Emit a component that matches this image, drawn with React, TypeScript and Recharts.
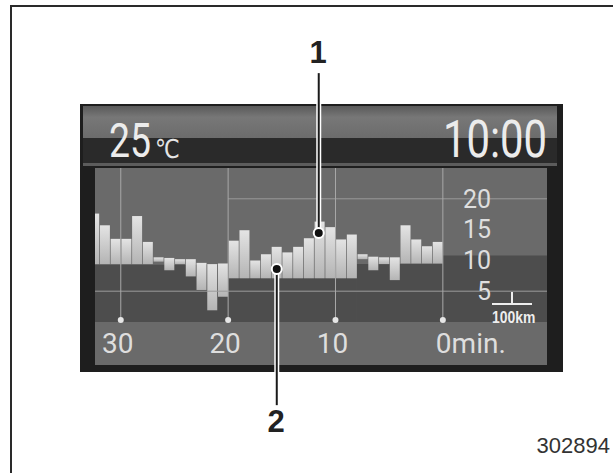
import React from "react";
import { ComposedChart, Bar, XAxis, YAxis, ReferenceArea, ReferenceLine, ReferenceDot } from "recharts";

// minutes ago at the start of each one-minute bar (oldest first)
const minutes = [33, 32, 31, 30, 29, 28, 27, 26, 25, 24, 23, 22, 21, 20, 19, 18, 17, 16, 15, 14, 13, 12, 11, 10, 9, 8, 7, 6, 5, 4, 3, 2, 1];
const barTop = [17.6, 15.7, 13.5, 13.5, 17.2, 13.0, 10.5, 10.4, 10.2, 10.2, 9.6, 9.4, 9.5, 13.2, 14.9, 10.0, 11.0, 12.2, 11.3, 12.2, 13.6, 16.3, 15.4, 13.4, 14.2, 11.0, 10.6, 10.5, 10.5, 15.7, 13.4, 12.3, 13.0];
const barBottom = [9.4, 9.4, 9.4, 9.4, 9.4, 9.4, 9.8, 8.4, 9.4, 7.4, 5.2, 1.9, 4.1, 7.1, 7.1, 7.1, 7.1, 7.1, 7.1, 7.1, 7.1, 7.1, 7.1, 7.1, 7.1, 10.2, 8.4, 9.4, 6.8, 9.5, 9.5, 9.5, 9.5];

const timeTicks = [30, 20, 10, 0];
const rateTicks = [5, 10, 15, 20];

// darker band under the running average
const avgFrom = [32.4, 20, 8, 0];
const avgTo = [20, 8, 0, -9.7];
const avgLevel = [9.3, 7.1, 9.4, 10.8];

const gridRates = [20, 5];
const gridFrom = [20, 32.4];

const callouts = [
  { name: "1", t: 11.56, rate: 14.45, end: 40.4 },
  { name: "2", t: 15.47, rate: 8.6, end: -13.5 },
];

const data = minutes.map((m, i) => ({ t: m - 0.5, range: [barBottom[i], barTop[i]] }));

const TimeTick = (props: any) => {
  const { x, payload } = props;
  const v = payload.value;
  return (
    <g>
      <circle cx={x} cy={320} r={3} fill="#e6e6e6" />
      {v === 0 ? (
        <text x={x - 7} y={353} fill="#dedede" fontSize={28} fontFamily="Roboto" textAnchor="start">
          0min.
        </text>
      ) : (
        <text x={x - 3} y={353} fill="#dedede" fontSize={28} fontFamily="Roboto" textAnchor="middle">
          {v}
        </text>
      )}
    </g>
  );
};

const RateTick = (props: any) => {
  const { y, payload } = props;
  return (
    <text x={491} y={y} dy="0.35em" fill="#dedede" fontSize={25} fontFamily="Roboto" textAnchor="end">
      {payload.value}
    </text>
  );
};

const box = (l: number, t: number, w: number, h: number, bg: string): React.CSSProperties => ({
  position: "absolute",
  left: l,
  top: t,
  width: w,
  height: h,
  background: bg,
});

export default function App() {
  return (
    <div style={{ position: "absolute", left: 0, top: 0, width: 613, height: 473, background: "#fff", overflow: "hidden" }}>
      <div style={{ position: "absolute", left: 10, top: 5, right: -4, bottom: -4, borderTop: "2px solid #2a2a2a", borderLeft: "2px solid #2a2a2a" }} />
      <div style={box(80, 104, 483, 268, "#1e1e1e")} />
      <div style={{ ...box(83, 106, 474, 32, "#6f6f6f"), background: "linear-gradient(#5a5a5a, #777 35%, #6c6c6c)" }} />
      <div style={box(83, 138, 474, 25, "#2a2a2a")} />
      <div style={box(83, 163, 474, 3, "#5c5c5c")} />
      <div style={box(95, 168, 452, 197, "#6a6a6a")} />

      <div style={{ position: "absolute", left: 0, top: 0 }}>
        <ComposedChart width={613} height={473} data={data} margin={{ top: 168, right: 66, bottom: 115, left: 95 }} barCategoryGap={0.6}>
          <defs>
            <linearGradient id="barFill" x1="0" y1="0" x2="0" y2="1">
              <stop offset="0%" stopColor="#e4e4e4" />
              <stop offset="100%" stopColor="#b4b4b4" />
            </linearGradient>
          </defs>
          <XAxis
            type="number"
            dataKey="t"
            domain={[-9.7, 32.4]}
            reversed
            allowDataOverflow
            ticks={timeTicks}
            interval={0}
            tick={<TimeTick />}
            axisLine={false}
            tickLine={false}
            height={36}
          />
          <YAxis
            type="number"
            domain={[0, 25]}
            orientation="right"
            mirror
            allowDataOverflow
            ticks={rateTicks}
            interval={0}
            tick={<RateTick />}
            axisLine={false}
            tickLine={false}
          />
          {avgLevel.map((lv, i) => (
            <ReferenceArea key={`avg-${i}`} x1={avgFrom[i]} x2={avgTo[i]} y1={0} y2={lv} fill="#4d4d4d" fillOpacity={1} stroke="none" ifOverflow="hidden" />
          ))}
          {gridRates.map((r, i) => (
            <ReferenceLine key={`gy-${i}`} segment={[{ x: gridFrom[i], y: r }, { x: -9.7, y: r }]} stroke="#9a9a9a" strokeWidth={1} ifOverflow="hidden" />
          ))}
          {timeTicks.map((t) => (
            <ReferenceLine key={`gx-${t}`} x={t} stroke="#a8a8a8" strokeWidth={1} />
          ))}
          <Bar dataKey="range" fill="url(#barFill)" isAnimationActive={false} />
          {callouts.map((c) => (
            <ReferenceLine key={`cw-${c.name}`} segment={[{ x: c.t, y: c.rate }, { x: c.t, y: c.end }]} stroke="#ffffff" strokeWidth={5} ifOverflow="visible" />
          ))}
          {callouts.map((c) => (
            <ReferenceLine key={`cb-${c.name}`} segment={[{ x: c.t, y: c.rate }, { x: c.t, y: c.end }]} stroke="#1a1a1a" strokeWidth={2} ifOverflow="visible" />
          ))}
          {callouts.map((c) => (
            <ReferenceDot key={`cd-${c.name}`} x={c.t} y={c.rate} r={5} fill="#111" stroke="#fff" strokeWidth={2} ifOverflow="visible" />
          ))}
        </ComposedChart>
      </div>

      <svg width={613} height={473} style={{ position: "absolute", left: 0, top: 0, pointerEvents: "none" }}>
        <text transform="translate(109,157) scale(0.78,1)" fontSize={48} fontFamily="Roboto" fill="#ececec">25</text>
        <text transform="translate(155,158) scale(0.85,1)" fontSize={26} fontFamily="DejaVu Sans" fill="#e4e4e4">℃</text>
        <text transform="translate(443,157) scale(0.82,1)" fontSize={51} fontFamily="Roboto" fill="#ececec">10:00</text>
        <line x1={492} y1={304} x2={532} y2={304} stroke="#eeeeee" strokeWidth={2} />
        <line x1={512} y1={292} x2={512} y2={304} stroke="#eeeeee" strokeWidth={2} />
        <text transform="translate(492,323) scale(0.82,1)" fontSize={17} fontWeight="bold" fontFamily="Liberation Sans" fill="#eeeeee">100km</text>
        <text x={318} y={63} fontSize={31} fontWeight="bold" fontFamily="Liberation Sans" fill="#222" textAnchor="middle">1</text>
        <text x={276} y={432} fontSize={31} fontWeight="bold" fontFamily="Liberation Sans" fill="#222" textAnchor="middle">2</text>
        <text x={610} y={453} fontSize={22} fontFamily="Liberation Sans" fill="#333" textAnchor="end">302894</text>
      </svg>
    </div>
  );
}
